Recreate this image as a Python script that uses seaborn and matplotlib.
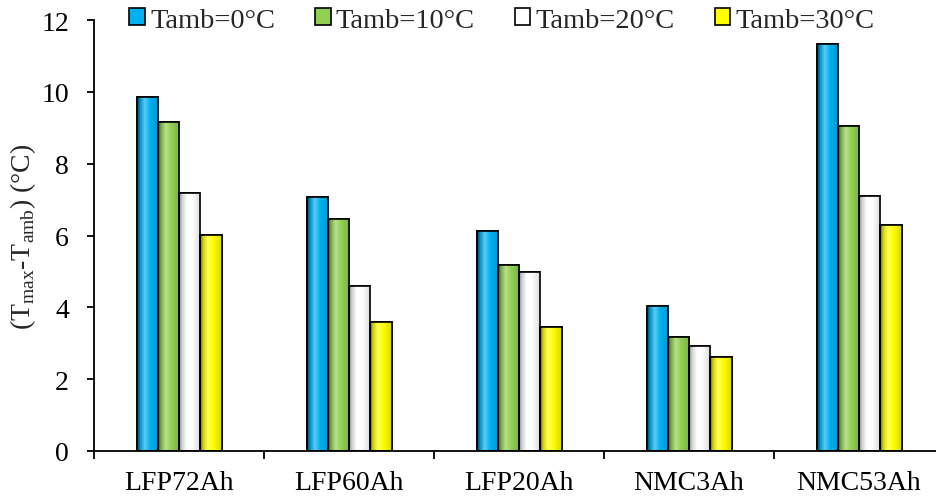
import numpy as np
import pandas as pd
import matplotlib
matplotlib.use("Agg")
import matplotlib.pyplot as plt
import seaborn as sns
from matplotlib.colors import LinearSegmentedColormap, to_rgb
from matplotlib.patches import Rectangle

# data
cells = ["LFP72Ah", "LFP60Ah", "LFP20Ah", "NMC3Ah", "NMC53Ah"]
temps = ["Tamb=0°C", "Tamb=10°C", "Tamb=20°C", "Tamb=30°C"]
t0 = [9.87, 7.07, 6.13, 4.05, 11.33]
t10 = [9.16, 6.45, 5.18, 3.18, 9.05]
t20 = [7.19, 4.59, 4.99, 2.93, 7.10]
t30 = [6.01, 3.59, 3.46, 2.61, 6.29]
colors = ["#00b0f0", "#92d050", "#ffffff", "#ffff00"]

df = pd.DataFrame({"cell": cells * 4,
                   "temp": np.repeat(temps, len(cells)),
                   "value": t0 + t10 + t20 + t30})

sns.set_theme(style="white")
plt.rcParams["font.family"] = ["Liberation Serif", "DejaVu Serif"]
plt.rcParams["mathtext.fontset"] = "custom"
plt.rcParams["mathtext.rm"] = "Liberation Serif"

fig = plt.figure(figsize=(9.36, 5.02), dpi=100)
# axis runs a little past the right edge, like the original
ax = fig.add_axes([94 / 936, 50 / 502, 850 / 936, 431 / 502])

sns.barplot(data=df, x="cell", y="value", hue="temp", hue_order=temps,
            palette=colors, width=0.5, gap=0, edgecolor="black",
            linewidth=1.2, saturation=1, ax=ax, legend=True)

# cylinder-like shading on each bar
def shade(c):
    c = np.array(to_rgb(c))
    dark = c * 0.35
    light = np.clip(c + (1 - c) * 0.35, 0, 1)
    if np.allclose(c, 1):
        dark = np.array([0.55, 0.55, 0.55])
        light = c
    return LinearSegmentedColormap.from_list(
        "s", [(0, dark), (0.12, c * 0.8), (0.35, light), (0.6, c), (1, c * 0.85)])

grad = np.linspace(0, 1, 64).reshape(1, -1)
bars = [p for p in ax.patches if isinstance(p, Rectangle) and p.get_height() > 0]
for p in bars:
    x, w, h = p.get_x(), p.get_width(), p.get_height()
    im = ax.imshow(grad, cmap=shade(p.get_facecolor()), aspect="auto",
                   extent=[x, x + w, 0, h], zorder=p.get_zorder() + 0.1)
    im.set_clip_path(p)
    ax.add_patch(Rectangle((x, 0), w, h, fill=False, edgecolor="black",
                           linewidth=1.2, zorder=p.get_zorder() + 0.2))

ax.set_xlim(-0.5, 4.5)
ax.set_ylim(0, 12)
ax.set_yticks(range(0, 13, 2))
ax.set_xlabel("")
ax.set_ylabel(r"(T$_{\mathrm{max}}$-T$_{\mathrm{amb}}$) (°C)", fontsize=20)
ax.yaxis.set_label_coords(-0.066, 0.5)

for s in ["top", "right"]:
    ax.spines[s].set_visible(False)
for s in ["left", "bottom"]:
    ax.spines[s].set_color("black")
    ax.spines[s].set_linewidth(1.3)

ax.tick_params(axis="y", direction="out", length=5, width=1.3, labelsize=20,
               left=True, colors="black", pad=13)
ax.tick_params(axis="x", which="major", length=0, labelsize=20, pad=14,
               colors="black")
ax.set_xticks(np.arange(-0.5, 4.6, 1), minor=True)
ax.tick_params(axis="x", which="minor", direction="out", length=6, width=1.3,
               bottom=True, color="black")

leg = ax.legend(loc="center", bbox_to_anchor=(0.48, 1.0), ncol=4,
                frameon=False, fontsize=20.5, handlelength=0.55, handleheight=0.55,
                handletextpad=0.18, columnspacing=1.4, borderaxespad=0)
for h in leg.legend_handles:
    h.set_edgecolor("black")
    h.set_linewidth(1.2)

fig.savefig("out.png", dpi=100)
